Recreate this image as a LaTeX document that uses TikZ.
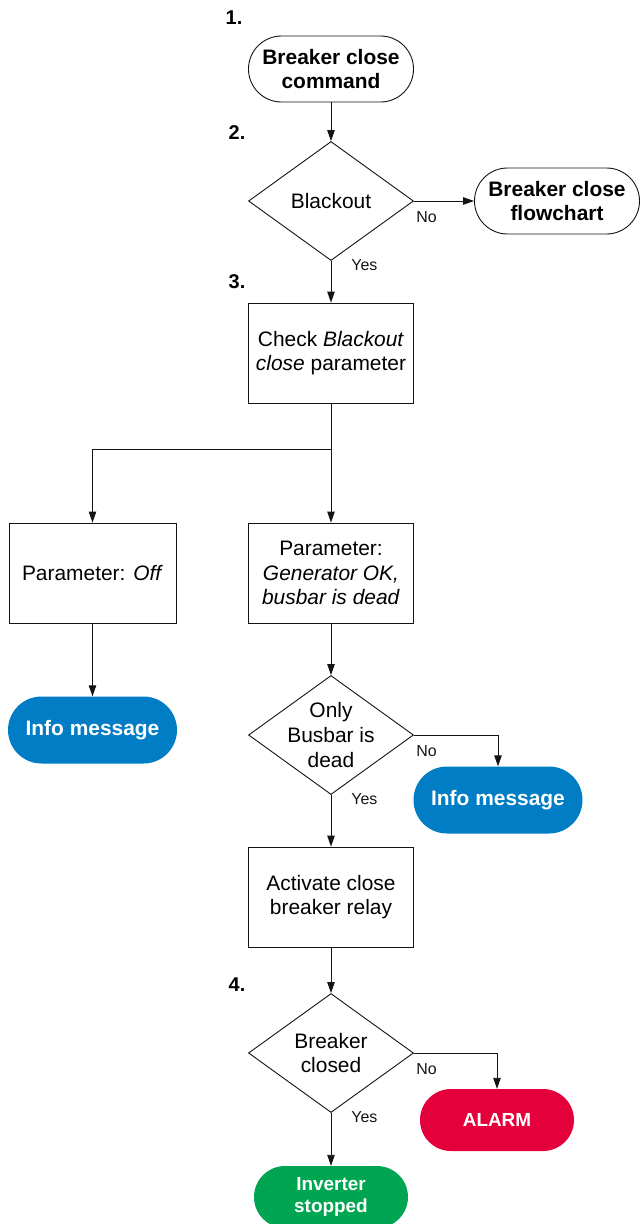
\documentclass[tikz,border=0pt]{standalone}
\usepackage{fontspec}
\setmainfont{Liberation Sans}
\usepackage{tikz}
\usetikzlibrary{shapes.geometric, arrows.meta, calc}
\definecolor{myblue}{RGB}{0,125,197}
\definecolor{myred}{RGB}{228,0,59}
\definecolor{mygreen}{RGB}{0,165,81}
\definecolor{mydark}{RGB}{20,20,20}
\tikzset{
  block/.style={rectangle, draw=mydark, fill=white,
    minimum width=165bp, minimum height=100bp, align=center,
    font=\fontsize{21}{24.5}\selectfont, line width=0.9bp},
  decision/.style={diamond, draw=mydark, fill=white,
    minimum width=165bp, minimum height=119bp, inner sep=0pt,
    line width=0.9bp},
  terminal/.style={rectangle, draw=mydark, fill=white,
    minimum width=165bp, minimum height=66bp, rounded corners=33bp,
    align=center, font=\fontsize{21}{24.5}\selectfont\bfseries, line width=0.9bp},
  infoterm/.style={rectangle, fill=myblue, text=white,
    minimum width=169bp, minimum height=67bp, rounded corners=33.5bp,
    font=\fontsize{21}{24}\selectfont\bfseries},
  alarmterm/.style={rectangle, fill=myred, text=white,
    minimum width=154bp, minimum height=62bp, rounded corners=31bp,
    font=\fontsize{19}{22}\selectfont\bfseries},
  okterm/.style={rectangle, fill=mygreen, text=white, align=center,
    minimum width=154bp, minimum height=62bp, rounded corners=31bp,
    font=\fontsize{19}{22}\selectfont\bfseries},
  steplbl/.style={font=\fontsize{20}{24}\selectfont\bfseries, inner sep=0pt},
  lbl/.style={font=\fontsize{16}{18}\selectfont, inner sep=0pt},
  dtext/.style={align=center, font=\fontsize{21}{25}\selectfont},
  arrow/.style={-{Triangle[length=11bp, width=7.5bp]}, line width=0.9bp, color=mydark},
  line/.style={line width=0.9bp, color=mydark}
}
\begin{document}
\begin{tikzpicture}[x=1bp, y=-1bp]
  \useasboundingbox (0,0) rectangle (641,1224);

  % Step numbers
  \node[steplbl] (n1) at (234,18) {1.};
  \node[steplbl] (n2) at (237,133) {2.};
  \node[steplbl] (n3) at (237,282) {3.};
  \node[steplbl] (n4) at (237,985) {4.};

  % Main column
  \node[terminal] (cmd) at (331,69) {Breaker close\\command};
  \node[decision, label={[dtext]center:Blackout}] (blk) at (331,201) {};
  \node[terminal] (flow) at (557,201) {Breaker close\\flowchart};
  \node[block] (chk) at (331,353) {Check \textit{Blackout}\\\textit{close} parameter};
  \coordinate (split) at (331,449);
  \node[block, minimum width=167bp] (poff) at (92.5,573) {Parameter: \textit{Off}};
  \node[block] (pgen) at (331,573) {Parameter:\\\textit{Generator OK,}\\\textit{busbar is dead}};
  \node[infoterm] (info1) at (92.5,730) {Info message};
  \node[decision, label={[dtext]center:Only\\Busbar is\\dead}] (bus) at (331,735) {};
  \node[infoterm] (info2) at (498,800) {Info message};
  \node[block] (relay) at (331,897) {Activate close\\breaker relay};
  \node[decision, label={[dtext]center:Breaker\\closed}] (brk) at (331,1053) {};
  \node[alarmterm] (alarm) at (497,1120) {ALARM};
  \node[okterm] (inv) at (331,1197) {Inverter\\stopped};

  % Connectors
  \draw[arrow] (cmd) -- (blk);
  \draw[arrow] (blk.east) -- node[lbl, pos=0, anchor=west, xshift=2bp, yshift=-16bp] {No} (flow.west);
  \draw[arrow] (blk.south) -- node[lbl, pos=0, anchor=west, xshift=20bp, yshift=-4bp] {Yes} (chk.north);
  \draw[line] (chk.south) -- (split);
  \draw[arrow] (split) -| (poff.north);
  \draw[arrow] (split) -- (pgen.north);
  \draw[arrow] (poff) -- (info1);
  \draw[arrow] (pgen) -- (bus);
  \draw[arrow] (bus.east) -| node[lbl, pos=0, anchor=west, xshift=2bp, yshift=-16bp] {No} (info2.north);
  \draw[arrow] (bus.south) -- node[lbl, pos=0, anchor=west, xshift=20bp, yshift=-4bp] {Yes} (relay.north);
  \draw[arrow] (relay) -- (brk);
  \draw[arrow] (brk.east) -| node[lbl, pos=0, anchor=west, xshift=2bp, yshift=-16bp] {No} (alarm.north);
  \draw[arrow] (brk.south) -- node[lbl, pos=0, anchor=west, xshift=20bp, yshift=-4bp] {Yes} (inv.north);
\end{tikzpicture}
\end{document}
